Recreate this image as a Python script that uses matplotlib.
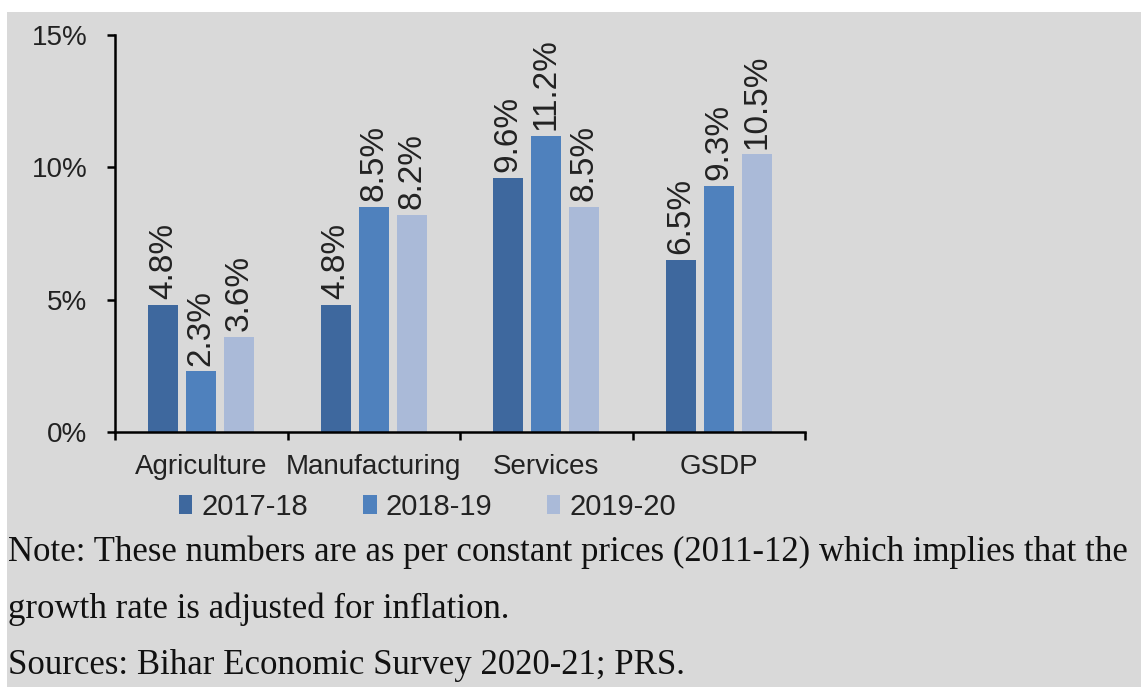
import matplotlib.pyplot as plt
import numpy as np
from matplotlib.patches import Rectangle

# data
categories = ['Agriculture', 'Manufacturing', 'Services', 'GSDP']
years = ['2017-18', '2018-19', '2019-20']
growth_1718 = [4.8, 4.8, 9.6, 6.5]
growth_1819 = [2.3, 8.5, 11.2, 9.3]
growth_1920 = [3.6, 8.2, 8.5, 10.5]
colors = ['#3e689e', '#4f81bd', '#aabad8']

plt.rcParams['font.family'] = ['Liberation Sans', 'DejaVu Sans']

W, H = 1141, 687
fig = plt.figure(figsize=(W / 100, H / 100), dpi=100, facecolor='white')
# grey panel behind everything
fig.patches.append(Rectangle((7 / W, 0), 1, 1 - 12 / H, transform=fig.transFigure,
                             facecolor='#d9d9d9', edgecolor='none', zorder=-1))

ax = fig.add_axes([115 / W, 1 - 432 / H, (805 - 115) / W, (432 - 35) / H])
ax.set_facecolor('none')

x = np.arange(len(categories)) + 0.5
step = 0.22
width = 0.175
series = [growth_1718, growth_1819, growth_1920]
for i, (vals, col, lab) in enumerate(zip(series, colors, years)):
    pos = x + (i - 1) * step
    bars = ax.bar(pos, vals, width=width, color=col, label=lab, zorder=2)
    for b, v in zip(bars, vals):
        ax.annotate(f'{v:.1f}%', (b.get_x() + b.get_width() / 2, v),
                    xytext=(0, 4), textcoords='offset points',
                    rotation=90, ha='center', va='bottom', fontsize=24, color='#222222')

ax.set_xlim(0, 4)
ax.set_ylim(0, 15)
ax.set_yticks([0, 5, 10, 15])
ax.set_yticklabels(['0%', '5%', '10%', '15%'])
ax.set_xticks([0, 1, 2, 3, 4])
ax.set_xticklabels([])
ax.set_xticks(x, minor=True)
ax.set_xticklabels(categories, minor=True)
ax.tick_params(axis='x', which='minor', length=0, pad=16, labelsize=20, labelcolor='#222222')
ax.tick_params(axis='x', which='major', length=6, width=1.8, direction='out')
ax.tick_params(axis='y', length=6, width=1.8, pad=14, labelsize=20, labelcolor='#222222')

for s in ['top', 'right']:
    ax.spines[s].set_visible(False)
for s in ['left', 'bottom']:
    ax.spines[s].set_linewidth(1.8)

ax.legend(loc='center', bbox_to_anchor=(0.453, -0.189), ncol=3, frameon=False,
          fontsize=21, handlelength=0.45, handleheight=0.62, handletextpad=0.3,
          columnspacing=1.9, labelcolor='#222222', borderpad=0)

note_lines = [
    'Note: These numbers are as per constant prices (2011-12) which implies that the',
    'growth rate is adjusted for inflation.',
    'Sources: Bihar Economic Survey 2020-21; PRS.',
]
for k, line in enumerate(note_lines):
    fig.text(8 / W, 1 - (552 + 57 * k) / H, line, ha='left', va='center',
             fontsize=25, family='Liberation Serif', color='#111111')

fig.savefig('out.png', dpi=100, facecolor=fig.get_facecolor())
